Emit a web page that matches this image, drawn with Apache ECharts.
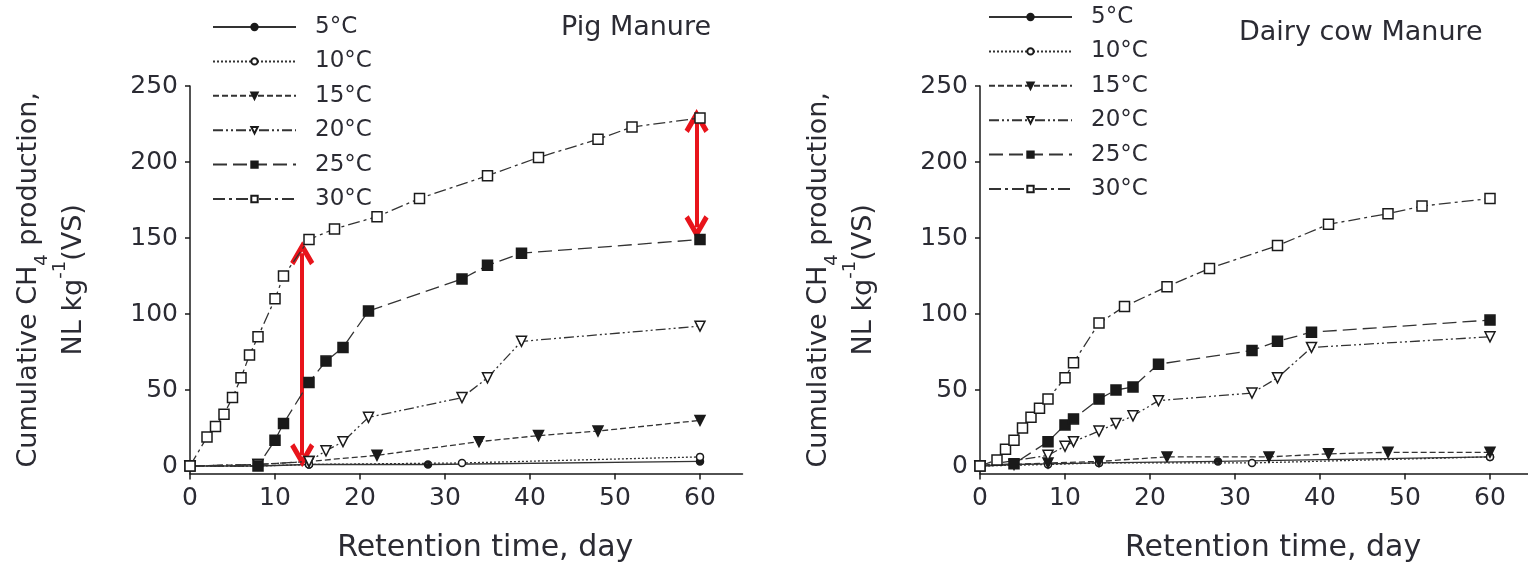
<!DOCTYPE html>
<html>
<head>
<meta charset="utf-8">
<script src="https://cdn.jsdelivr.net/npm/echarts@6/dist/echarts.min.js"></script>
<style>
  html, body { margin: 0; padding: 0; background: #fff; }
  #chart { width: 1528px; height: 563px; }
</style>
</head>
<body>
<div id="chart"></div>
<script>
// temperature labels
const temps = ['5°C', '10°C', '15°C', '20°C', '25°C', '30°C']

// pig manure
const pigDays5 = [0, 8, 14, 28, 60]
const pigVals5 = [0, 0, 1, 1, 3]
const pigDays10 = [0, 8, 14, 32, 60]
const pigVals10 = [0, 0, 1, 2, 6]
const pigDays15 = [0, 8, 14, 22, 34, 41, 48, 60]
const pigVals15 = [0, 1, 3, 7, 16, 20, 23, 30]
const pigDays20 = [0, 8, 14, 16, 18, 21, 32, 35, 39, 60]
const pigVals20 = [0, 1, 3, 10, 16, 32, 45, 58, 82, 92]
const pigDays25 = [0, 8, 10, 11, 14, 16, 18, 21, 32, 35, 39, 60]
const pigVals25 = [0, 0, 17, 28, 55, 69, 78, 102, 123, 132, 140, 149]
const pigDays30 = [0, 2, 3, 4, 5, 6, 7, 8, 10, 11, 14, 17, 22, 27, 35, 41, 48, 52, 60]
const pigVals30 = [0, 19, 26, 34, 45, 58, 73, 85, 110, 125, 149, 156, 164, 176, 191, 203, 215, 223, 229]

// dairy cow manure
const cowDays5 = [0, 4, 14, 28, 60]
const cowVals5 = [0, 1, 2, 3, 6]
const cowDays10 = [0, 8, 14, 32, 60]
const cowVals10 = [0, 1, 2, 2, 6]
const cowDays15 = [0, 4, 8, 14, 22, 34, 41, 48, 60]
const cowVals15 = [0, 1, 2, 3, 6, 6, 8, 9, 9]
const cowDays20 = [0, 8, 10, 11, 14, 16, 18, 21, 32, 35, 39, 60]
const cowVals20 = [0, 7, 13, 16, 23, 28, 33, 43, 48, 58, 78, 85]
const cowDays25 = [0, 4, 8, 10, 11, 14, 16, 18, 21, 32, 35, 39, 60]
const cowVals25 = [0, 1.5, 16, 27, 31, 44, 50, 52, 67, 76, 82, 88, 96]
const cowDays30 = [0, 2, 3, 4, 5, 6, 7, 8, 10, 11, 14, 17, 22, 27, 35, 41, 48, 52, 60]
const cowVals30 = [0, 4, 11, 17, 25, 32, 38, 44, 58, 68, 94, 105, 118, 130, 145, 159, 166, 171, 176]

// red double arrows on the pig plot: [day, upper head centre, lower head centre]
const arrow1 = [13.2, 140, 7]
const arrow2 = [59.6, 227, 157]

const xTicks = [0, 10, 20, 30, 40, 50, 60]
const yTicks = [0, 50, 100, 150, 200, 250]

const FONT = 'DejaVu Sans'
const TXT = '#2b2b33'
const INK = '#1a1a1a'

const pairs = (xs, ys) => xs.map((x, i) => [x, ys[i]])

// per temperature: marker + dash pattern
const styles = [
  { symbol: 'circle', size: 7, fill: INK, dash: 'solid' },
  { symbol: 'circle', size: 7, fill: '#fff', dash: [2, 2] },
  { symbol: 'triangle', size: 10, fill: INK, dash: [6, 3] },
  { symbol: 'triangle', size: 10, fill: '#fff', dash: [10, 3, 2, 3, 2, 3] },
  { symbol: 'rect', size: 10, fill: INK, dash: [14, 6] },
  { symbol: 'rect', size: 10, fill: '#fff', dash: [12, 4, 3, 4] }
]

const makeSeries = (idx, data, gridIdx) => {
  const st = styles[idx]
  return {
    name: temps[idx],
    type: 'line',
    xAxisIndex: gridIdx,
    yAxisIndex: gridIdx,
    data: data,
    symbol: st.symbol,
    symbolSize: st.size,
    symbolRotate: st.symbol === 'triangle' ? 180 : 0,
    showAllSymbol: true,
    animation: false,
    lineStyle: { color: '#333', width: 1.3, type: st.dash },
    itemStyle: { color: st.fill, borderColor: INK, borderWidth: 1.5 },
    emphasis: { disabled: true },
    z: 2 + idx
  }
}

const pigData = [
  pairs(pigDays5, pigVals5), pairs(pigDays10, pigVals10), pairs(pigDays15, pigVals15),
  pairs(pigDays20, pigVals20), pairs(pigDays25, pigVals25), pairs(pigDays30, pigVals30)
]
const cowData = [
  pairs(cowDays5, cowVals5), pairs(cowDays10, cowVals10), pairs(cowDays15, cowVals15),
  pairs(cowDays20, cowVals20), pairs(cowDays25, cowVals25), pairs(cowDays30, cowVals30)
]

const xAxisOf = (gridIdx, max) => ({
  type: 'value',
  gridIndex: gridIdx,
  min: 0,
  max: max,
  name: 'Retention time, day',
  nameLocation: 'middle',
  nameGap: 60,
  nameTextStyle: { fontFamily: FONT, fontSize: 30, color: TXT, padding: [0, 0, 0, 38] },
  axisLine: { onZero: false, lineStyle: { color: INK, width: 1.5 } },
  axisTick: { customValues: xTicks, length: 6, lineStyle: { color: INK, width: 1.5 } },
  axisLabel: { customValues: xTicks, fontFamily: FONT, fontSize: 25, color: TXT, margin: 12 },
  splitLine: { show: false }
})

const yAxisOf = (gridIdx) => ({
  type: 'value',
  gridIndex: gridIdx,
  min: -5,
  max: 250,
  name: '{a|Cumulative CH}{b|4}{a| production,}\n{a|NL kg}{c|-1}{a|(VS)}',
  nameLocation: 'middle',
  nameRotate: 90,
  nameGap: 94,
  nameTextStyle: {
    rich: {
      a: { fontFamily: FONT, fontSize: 27, color: TXT, lineHeight: 45 },
      b: { fontFamily: FONT, fontSize: 18, color: TXT, lineHeight: 26, verticalAlign: 'bottom' },
      c: { fontFamily: FONT, fontSize: 18, color: TXT, lineHeight: 26, verticalAlign: 'top' }
    }
  },
  axisLine: { onZero: false, lineStyle: { color: INK, width: 1.5 } },
  axisTick: { customValues: yTicks, length: 5, lineStyle: { color: INK, width: 1.5 } },
  axisLabel: { customValues: yTicks, fontFamily: FONT, fontSize: 25, color: TXT, margin: 12 },
  splitLine: { show: false }
})

// open V arrow head, tip at the top
const chevron = 'path://M5,0 L10,8.5 L8.3,9.8 L5,4.2 L1.7,9.8 L0,8.5 Z'

const arrowLine = (a) => [
  { coord: [a[0], a[1]] },
  { coord: [a[0], a[2]] }
]

const legendOf = (left, top) => ({
  orient: 'vertical',
  left: left,
  top: top,
  padding: 0,
  data: temps,
  itemWidth: 83,
  itemHeight: 8,
  itemGap: 8.4,
  selectedMode: false,
  textStyle: { fontFamily: FONT, fontSize: 23, color: TXT, lineHeight: 26, padding: [0, 0, 0, 14] }
})

const series = []
pigData.forEach((d, i) => series.push(makeSeries(i, d, 0)))
cowData.forEach((d, i) => series.push(makeSeries(i, d, 1)))
series.push({
  name: 'arrows',
  type: 'line',
  xAxisIndex: 0,
  yAxisIndex: 0,
  data: [],
  animation: false,
  markLine: {
    silent: true,
    animation: false,
    symbol: [chevron, chevron],
    symbolSize: 24,
    label: { show: false },
    lineStyle: { color: '#e8141b', width: 4, type: 'solid' },
    emphasis: { disabled: true },
    data: [arrowLine(arrow1), arrowLine(arrow2)]
  },
  z: 20
})

const chart = echarts.init(document.getElementById('chart'))
chart.setOption({
  backgroundColor: '#fff',
  animation: false,
  title: [
    { text: 'Pig Manure', left: 556, top: 9, textStyle: { fontFamily: FONT, fontSize: 27, fontWeight: 'normal', color: TXT } },
    { text: 'Dairy cow Manure', left: 1234, top: 14, textStyle: { fontFamily: FONT, fontSize: 27, fontWeight: 'normal', color: TXT } }
  ],
  legend: [legendOf(212, 14), legendOf(988, 4)],
  grid: [
    { left: 190, top: 86, width: 552.5, height: 387.6, containLabel: false, outerBoundsMode: 'none' },
    { left: 980, top: 86, width: 548.25, height: 387.6, containLabel: false, outerBoundsMode: 'none' }
  ],
  xAxis: [xAxisOf(0, 65), xAxisOf(1, 64.5)],
  yAxis: [yAxisOf(0), yAxisOf(1)],
  series: series
})
</script>
</body>
</html>
